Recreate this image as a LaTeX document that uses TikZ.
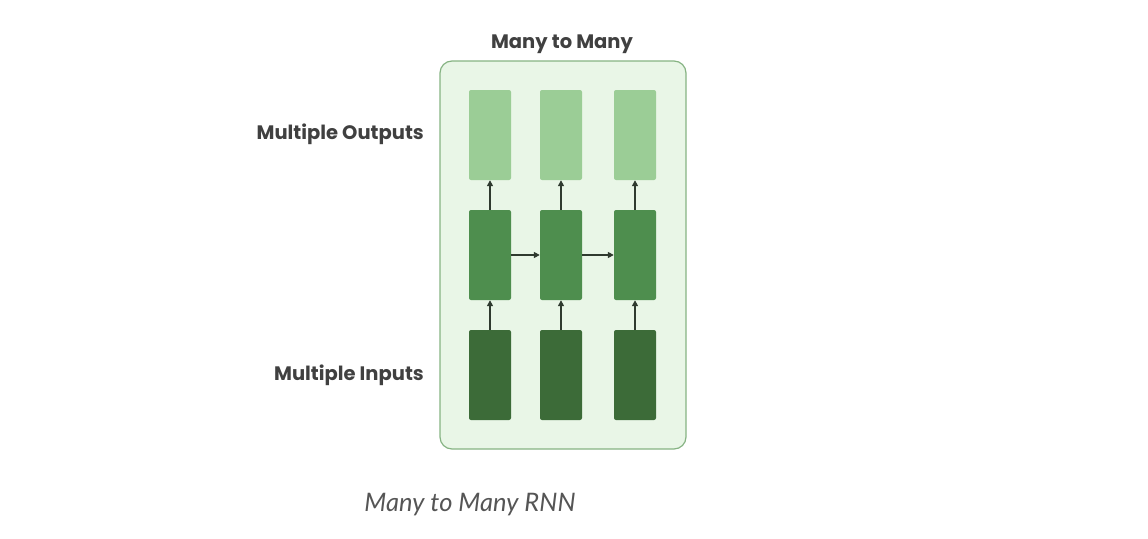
\documentclass[tikz,border=0pt]{standalone}
\usepackage{fontspec}
\setmainfont{Poppins}
\newfontfamily\capfont{Lato}
\usetikzlibrary{arrows.meta}
\definecolor{panelfill}{HTML}{E9F6E7}
\definecolor{paneldraw}{HTML}{86B383}
\definecolor{outcol}{HTML}{9BCD96}
\definecolor{hidcol}{HTML}{4E8E4E}
\definecolor{incol}{HTML}{3C6B38}
\definecolor{arrcol}{HTML}{2F3A2F}
\definecolor{txtcol}{HTML}{404040}
\definecolor{capcol}{HTML}{555555}
\tikzset{
  cell/.style={minimum width=42pt, minimum height=90pt, inner sep=0pt, rounded corners=2pt},
  outcell/.style={cell, fill=outcol},
  hidcell/.style={cell, fill=hidcol},
  incell/.style={cell, fill=incol},
  link/.style={draw=arrcol, line width=1.6pt, -{Triangle[length=6pt,width=6pt]}},
  lab/.style={font=\fontsize{19.5}{22}\selectfont\bfseries, text=txtcol, inner sep=0pt}
}
\begin{document}
\begin{tikzpicture}[x=1pt,y=-1pt]
\useasboundingbox (0,0) rectangle (1148,538);
\node[draw=paneldraw, fill=panelfill, line width=1.2pt, rounded corners=12pt, minimum width=246pt, minimum height=388pt, inner sep=0pt] (panel) at (563,255) {};
\node[lab] (title) at (562,44) {Many to Many};
\node[lab, anchor=east] (outlab) at (424,134) {Multiple Outputs};
\node[lab, anchor=east] (inlab) at (424,375) {Multiple Inputs};
\foreach \i/\x in {1/490,2/561,3/635} {
  \node[outcell] (o\i) at (\x,135) {};
  \node[hidcell] (h\i) at (\x,255) {};
  \node[incell] (n\i) at (\x,375) {};
  \draw[link] (n\i.north) -- (h\i.south);
  \draw[link] (h\i.north) -- (o\i.south);
}
\draw[link] (h1.east) -- (h2.west);
\draw[link] (h2.east) -- (h3.west);
\node[font=\capfont\itshape\fontsize{25.5}{28}\selectfont, text=capcol, inner sep=0pt] (cap) at (470,505) {Many to Many RNN};
\end{tikzpicture}
\end{document}
